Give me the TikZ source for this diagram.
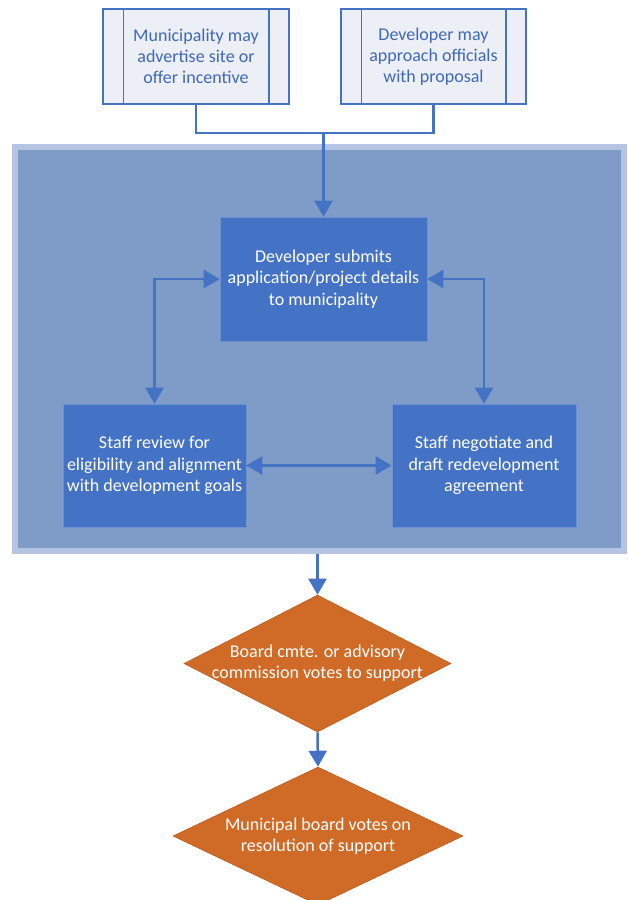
\documentclass[tikz,border=0pt]{standalone}
\usepackage{fontspec}
\setmainfont{Carlito}
\usepackage{xcolor}
\usepackage{tikz}
\usetikzlibrary{calc,arrows.meta,shapes.geometric}
\definecolor{boxblue}{HTML}{4472C4}
\definecolor{boxedge}{HTML}{6F91D2}
\definecolor{rim}{HTML}{B4C4E2}
\definecolor{panel}{HTML}{7F9CC9}
\definecolor{startfill}{HTML}{ECEFF6}
\definecolor{textblue}{HTML}{3F68B9}
\definecolor{orng}{HTML}{D06A27}
\definecolor{orngedge}{HTML}{B95D22}
\tikzset{
  txt/.style={font=\fontsize{18}{21.3}\selectfont, align=center},
  start/.style={txt, draw=boxblue, line width=1.5pt, fill=startfill, text=textblue, minimum height=95pt},
  stepbox/.style={txt, draw=boxedge, line width=0.6pt, fill=boxblue, text=white, minimum height=123pt},
  grpbox/.style={draw=rim, line width=6pt, fill=panel, minimum width=609pt, minimum height=404pt},
  vote/.style={diamond, draw=orngedge, line width=0.6pt, fill=orng, inner sep=0pt},
  votetxt/.style={txt, text=white},
  conn/.style={draw=boxblue, line width=2.5pt},
  arr/.style={conn, -{Triangle[width=18pt,length=16pt]}},
  darr/.style={conn, {Triangle[width=18pt,length=16pt]}-{Triangle[width=18pt,length=16pt]}},
}
\begin{document}
\begin{tikzpicture}[x=1pt,y=-1pt]
  \useasboundingbox (0,0) rectangle (627,900);
  \node[grpbox] (grp) at (319.5,349) {};
  \node[start, minimum width=186pt] (muni) at (196,56.5) {Municipality may\\advertise site or\\offer incentive};
  \node[start, minimum width=185pt] (devp) at (433.5,56.5) {Developer may\\approach officials\\with proposal};
  \foreach \n in {muni,devp}{
    \draw[boxblue, line width=1.5pt] ([xshift=21pt]\n.north west) -- ([xshift=21pt]\n.south west);
    \draw[boxblue, line width=1.5pt] ([xshift=-21pt]\n.north east) -- ([xshift=-21pt]\n.south east);
  }
  \node[stepbox, minimum width=207pt, minimum height=124pt] (sub) at (323.5,279) {Developer submits\\application/project details\\to municipality};
  \node[stepbox, minimum width=183pt] (review) at (154.5,465.5) {Staff review for\\eligibility and alignment\\with development goals};
  \node[stepbox, minimum width=184pt] (nego) at (484,465.5) {Staff negotiate and\\draft redevelopment\\agreement};
  \node[vote, minimum width=267pt, minimum height=137pt] (cmte) at (317.5,663.5) {};
  \node[votetxt] at (cmte) {Board cmte. or advisory\\commission votes to support};
  \node[vote, minimum width=290pt, minimum height=138pt] (board) at (318,836) {};
  \node[votetxt] at (board) {Municipal board votes on\\resolution of support};
  \coordinate (join) at (sub.north |- 0,133);
  \coordinate (pout) at (cmte.north |- grp.south);
  \draw[conn] (muni.south) |- (join) -| (devp.south);
  \draw[arr] (join) -- (sub.north);
  \draw[darr] (sub.west) -| (review.north);
  \draw[darr] (sub.east) -| (nego.north);
  \draw[darr] (review.east) -- (nego.west);
  \draw[arr] (pout) -- (cmte.north);
  \draw[arr] (cmte.south) -- (board.north);
\end{tikzpicture}
\end{document}
